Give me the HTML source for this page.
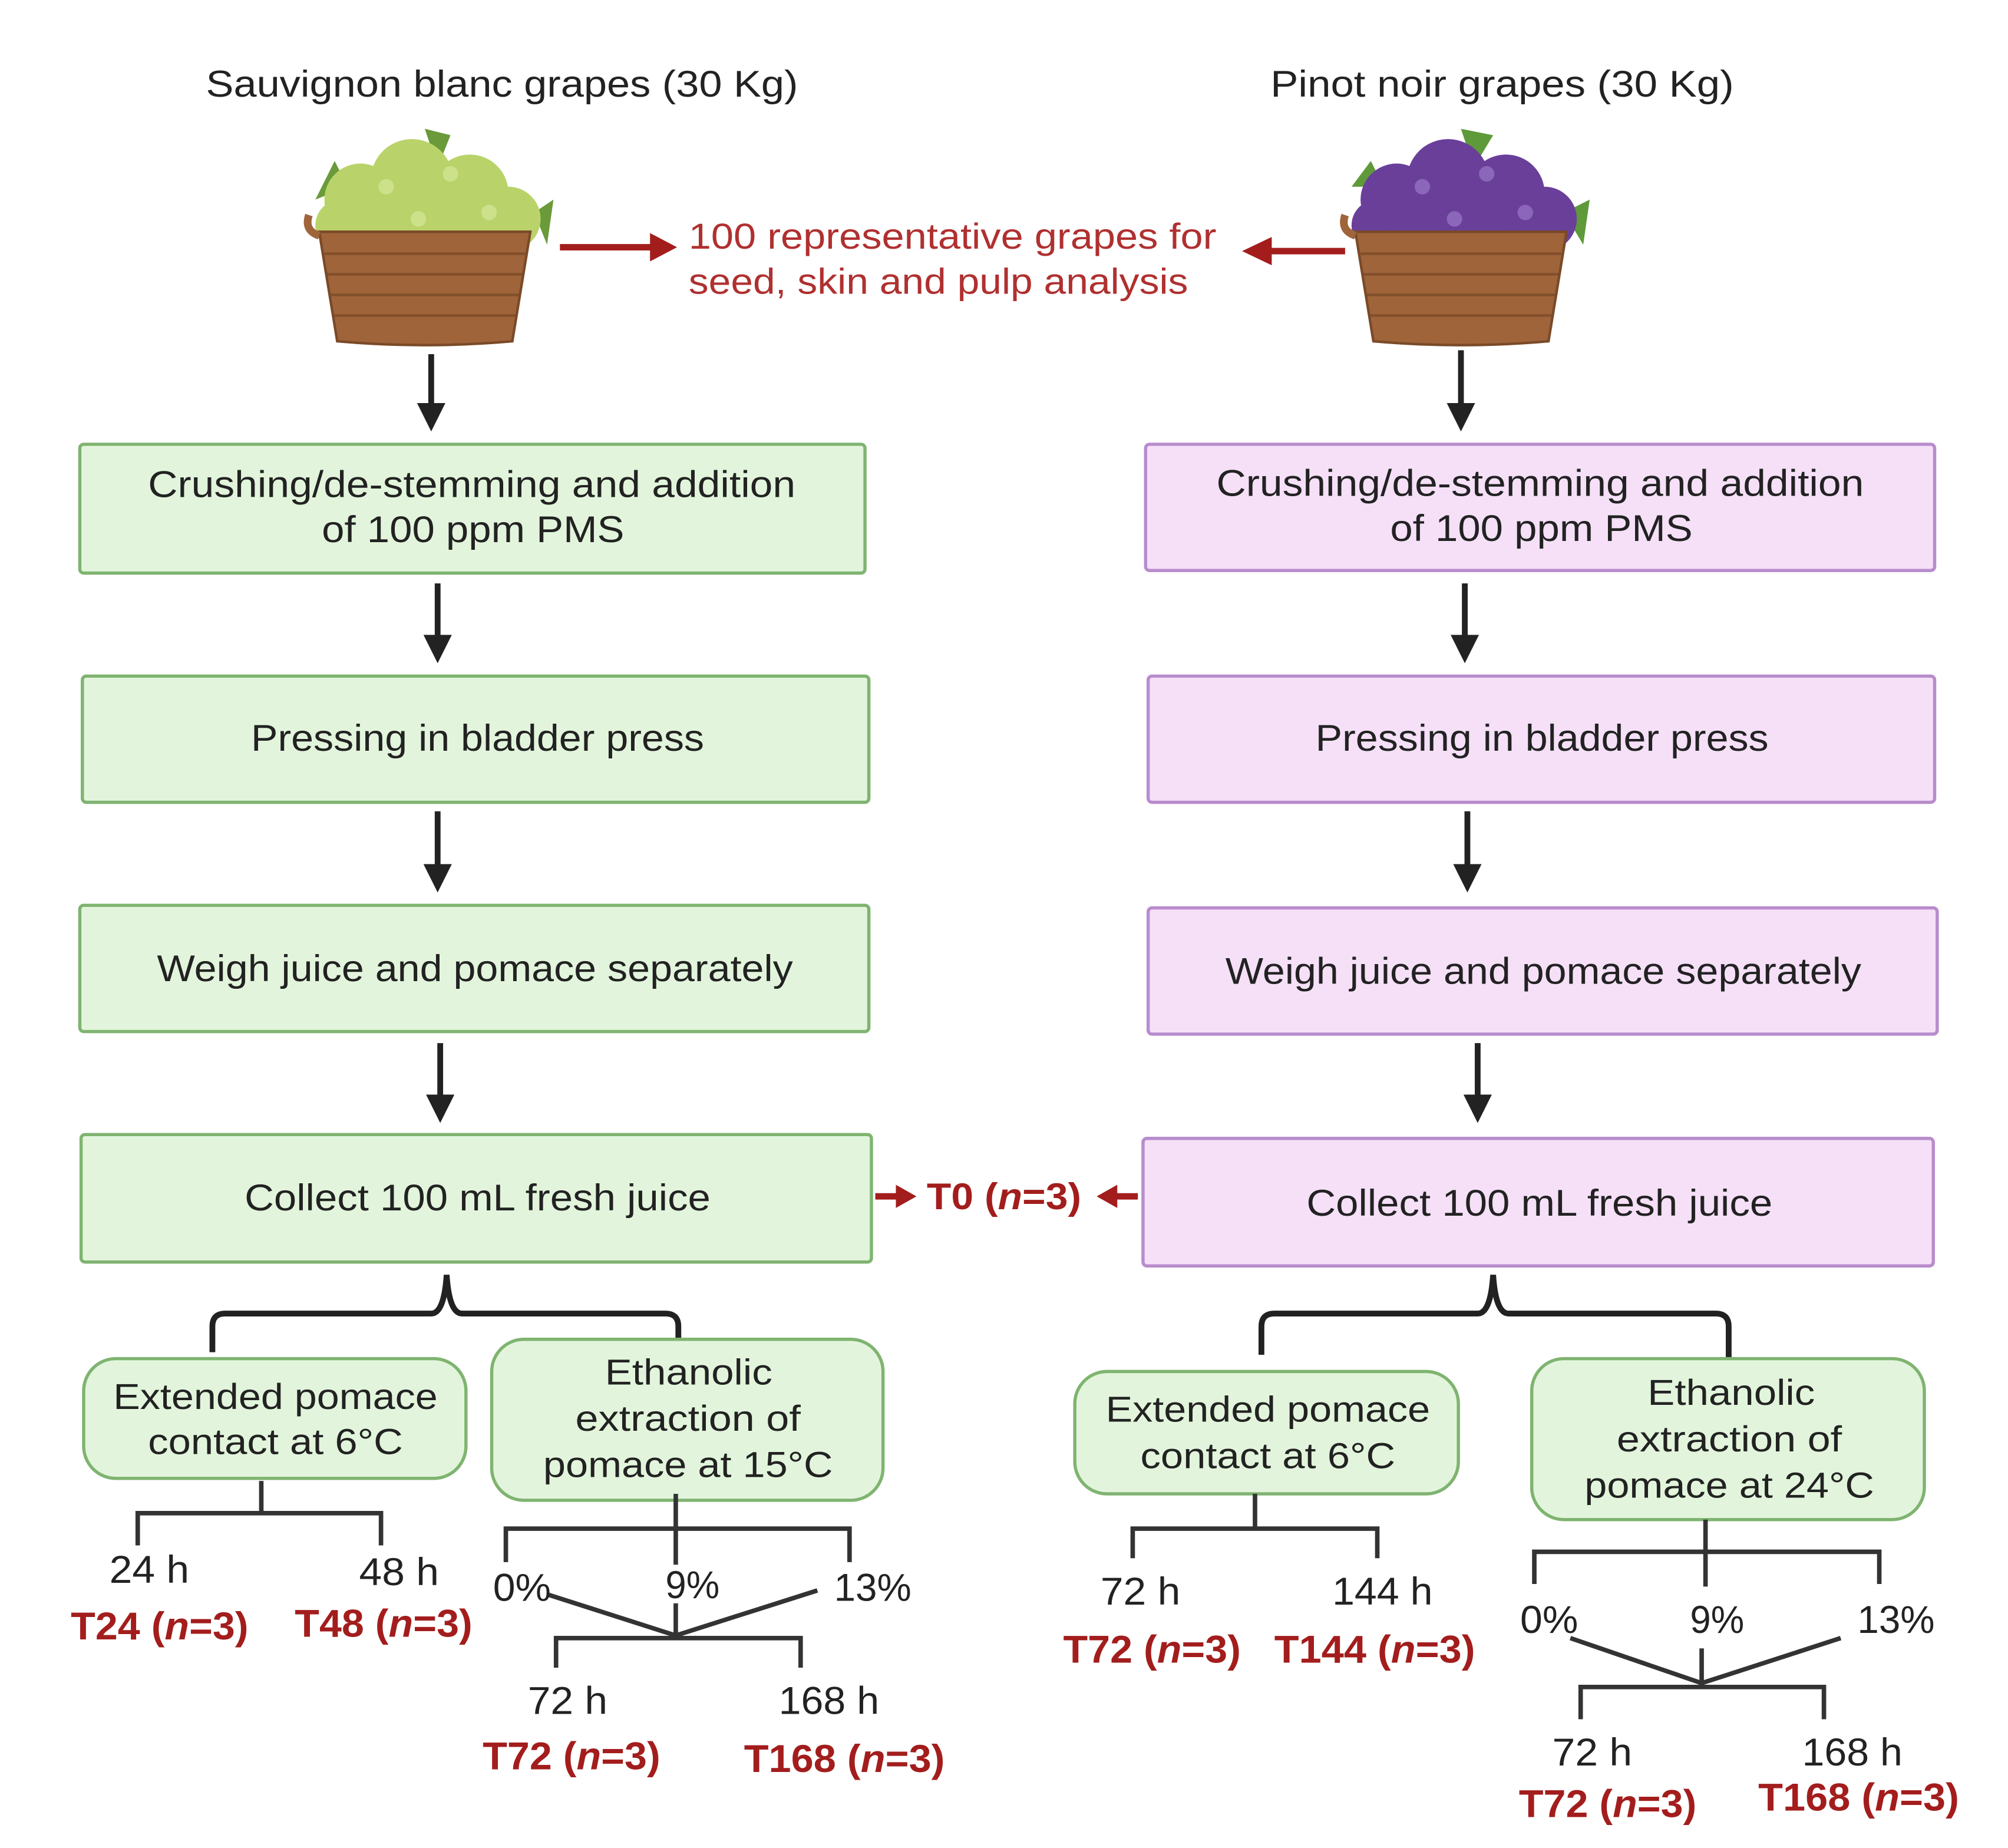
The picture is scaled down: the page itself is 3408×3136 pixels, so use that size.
<!DOCTYPE html>
<html><head><style>html,body{margin:0;padding:0;background:#fff}svg{display:block}</style></head><body>
<svg width="3408" height="3136" viewBox="0 0 1560 1435" preserveAspectRatio="none" xmlns="http://www.w3.org/2000/svg" font-family="Liberation Sans, Arial, sans-serif">
<defs>
<g id="basket">
<path d="M-82,5 L82,5 L68,90 Q0,96 -68,90 Z" fill="#a0643a" stroke="#7a4a28" stroke-width="2"/>
<g stroke="#7a4a28" stroke-width="2" opacity="0.8"><line x1="-78" y1="22" x2="78" y2="22"/><line x1="-76" y1="38" x2="76" y2="38"/><line x1="-74" y1="54" x2="74" y2="54"/><line x1="-71" y1="70" x2="71" y2="70"/></g>
<path d="M-90,-8 Q-94,4 -82,8" stroke="#a0643a" stroke-width="6" fill="none"/>
</g>
<g id="dn"><path d="M-11,0 L11,0 L0,22 z" fill="#222"/></g>
</defs>
<g font-size="29" fill="#222">
<text x="160" y="75" textLength="460" lengthAdjust="spacingAndGlyphs">Sauvignon blanc grapes (30 Kg)</text>
<text x="987" y="75" textLength="360" lengthAdjust="spacingAndGlyphs">Pinot noir grapes (30 Kg)</text>
</g>
<g transform="translate(330,175)">
<g fill="#6a9a3a"><path d="M-85,-20 L-70,-50 L-60,-30 Z"/><path d="M0,-75 L20,-70 L10,-45 Z"/><path d="M85,-10 L100,-20 L95,15 Z"/></g>
<g fill="#b9d36a"><circle cx="-50" cy="-20" r="28"/><circle cx="-10" cy="-35" r="32"/><circle cx="35" cy="-25" r="30"/><circle cx="65" cy="-5" r="25"/><circle cx="-65" cy="0" r="20"/><circle cx="10" cy="5" r="28"/><circle cx="-35" cy="5" r="22"/><circle cx="5" cy="20" r="20"/></g>
<g fill="#d6e89a" opacity="0.7"><circle cx="-30" cy="-30" r="6"/><circle cx="20" cy="-40" r="6"/><circle cx="50" cy="-10" r="6"/><circle cx="-5" cy="-5" r="6"/></g>
</g>
<use href="#basket" x="330" y="175"/>
<g transform="translate(1135,175)">
<g fill="#5f9a3a"><path d="M-85,-30 L-70,-50 L-60,-30 Z"/><path d="M0,-75 L25,-70 L10,-45 Z"/><path d="M80,-10 L100,-20 L95,15 Z"/></g>
<g fill="#6a3f9a"><circle cx="-50" cy="-20" r="28"/><circle cx="-10" cy="-35" r="32"/><circle cx="35" cy="-25" r="30"/><circle cx="65" cy="-5" r="25"/><circle cx="-65" cy="0" r="20"/><circle cx="10" cy="5" r="28"/><circle cx="-35" cy="5" r="22"/></g>
<g fill="#9a78c8" opacity="0.7"><circle cx="-30" cy="-30" r="6"/><circle cx="20" cy="-40" r="6"/><circle cx="50" cy="-10" r="6"/><circle cx="-5" cy="-5" r="6"/></g>
</g>
<use href="#basket" x="1135" y="175"/>
<g fill="#a31d1d" stroke="#a31d1d">
<line x1="435" y1="192" x2="508" y2="192" stroke-width="5"/><path d="M505,181 L526,192 L505,203 z" stroke="none"/>
<line x1="1045" y1="195" x2="985" y2="195" stroke-width="5"/><path d="M988,184 L965,195 L988,206 z" stroke="none"/>
</g>
<g font-size="28" fill="#b03030">
<text x="535" y="193" textLength="410" lengthAdjust="spacingAndGlyphs">100 representative grapes for</text>
<text x="535" y="228" textLength="388" lengthAdjust="spacingAndGlyphs">seed, skin and pulp analysis</text>
</g>
<g stroke="#222" stroke-width="4.5">
<line x1="335" y1="275" x2="335" y2="316"/><line x1="1135" y1="272" x2="1135" y2="316"/>
<line x1="340" y1="453" x2="340" y2="496"/><line x1="1138" y1="453" x2="1138" y2="496"/>
<line x1="340" y1="630" x2="340" y2="674"/><line x1="1140" y1="630" x2="1140" y2="674"/>
<line x1="342" y1="810" x2="342" y2="853"/><line x1="1148" y1="810" x2="1148" y2="853"/>
</g>
<use href="#dn" x="335" y="313"/><use href="#dn" x="1135" y="313"/>
<use href="#dn" x="340" y="493"/><use href="#dn" x="1138" y="493"/>
<use href="#dn" x="340" y="671"/><use href="#dn" x="1140" y="671"/>
<use href="#dn" x="342" y="850"/><use href="#dn" x="1148" y="850"/>
<g stroke-width="2.5">
<rect x="62" y="345" width="610" height="100" rx="3" fill="#e2f5dc" stroke="#7fb470"/>
<rect x="64" y="525" width="611" height="98" rx="3" fill="#e2f5dc" stroke="#7fb470"/>
<rect x="62" y="703" width="613" height="98" rx="3" fill="#e2f5dc" stroke="#7fb470"/>
<rect x="63" y="881" width="614" height="99" rx="3" fill="#e2f5dc" stroke="#7fb470"/>
<rect x="890" y="345" width="613" height="98" rx="3" fill="#f5e0f8" stroke="#b88ccc"/>
<rect x="892" y="525" width="611" height="98" rx="3" fill="#f5e0f8" stroke="#b88ccc"/>
<rect x="892" y="705" width="613" height="98" rx="3" fill="#f5e0f8" stroke="#b88ccc"/>
<rect x="888" y="884" width="614" height="99" rx="3" fill="#f5e0f8" stroke="#b88ccc"/>
</g>
<g font-size="29" fill="#222">
<text x="115" y="386" textLength="503" lengthAdjust="spacingAndGlyphs">Crushing/de-stemming and addition</text>
<text x="250" y="421" textLength="235" lengthAdjust="spacingAndGlyphs">of 100 ppm PMS</text>
<text x="195" y="583" textLength="352" lengthAdjust="spacingAndGlyphs">Pressing in bladder press</text>
<text x="122" y="762" textLength="494" lengthAdjust="spacingAndGlyphs">Weigh juice and pomace separately</text>
<text x="190" y="940" textLength="362" lengthAdjust="spacingAndGlyphs">Collect 100 mL fresh juice</text>
<text x="945" y="385" textLength="503" lengthAdjust="spacingAndGlyphs">Crushing/de-stemming and addition</text>
<text x="1080" y="420" textLength="235" lengthAdjust="spacingAndGlyphs">of 100 ppm PMS</text>
<text x="1022" y="583" textLength="352" lengthAdjust="spacingAndGlyphs">Pressing in bladder press</text>
<text x="952" y="764" textLength="494" lengthAdjust="spacingAndGlyphs">Weigh juice and pomace separately</text>
<text x="1015" y="944" textLength="362" lengthAdjust="spacingAndGlyphs">Collect 100 mL fresh juice</text>
</g>
<g fill="#a31d1d" stroke="#a31d1d">
<line x1="680" y1="929" x2="698" y2="929" stroke-width="5"/><path d="M696,920 L712,929 L696,938 z" stroke="none"/>
<line x1="884" y1="929" x2="866" y2="929" stroke-width="5"/><path d="M868,920 L852,929 L868,938 z" stroke="none"/>
</g>
<text x="720" y="939" font-size="29" font-weight="bold" fill="#a31d1d" textLength="120" lengthAdjust="spacingAndGlyphs">T0 (<tspan font-style="italic">n</tspan>=3)</text>
<g stroke="#222" stroke-width="4.5" fill="none">
<path d="M165,1050 L165,1030 Q165,1020 175,1020 L335,1020 Q345,1020 347,990 Q349,1020 359,1020 L517,1020 Q527,1020 527,1030 L527,1040"/>
<path d="M980,1052 L980,1030 Q980,1020 990,1020 L1148,1020 Q1158,1020 1160,990 Q1162,1020 1172,1020 L1333,1020 Q1343,1020 1343,1030 L1343,1055"/>
</g>
<g stroke-width="2.5" fill="#e2f5dc" stroke="#7fb470">
<rect x="65" y="1055" width="297" height="93" rx="25"/>
<rect x="382" y="1040" width="304" height="125" rx="25"/>
<rect x="835" y="1065" width="298" height="95" rx="25"/>
<rect x="1190" y="1055" width="305" height="125" rx="25"/>
</g>
<g font-size="28" fill="#222">
<text x="88" y="1094" textLength="252" lengthAdjust="spacingAndGlyphs">Extended pomace</text>
<text x="115" y="1129" textLength="198" lengthAdjust="spacingAndGlyphs">contact at 6°C</text>
<text x="470" y="1075" textLength="130" lengthAdjust="spacingAndGlyphs">Ethanolic</text>
<text x="447" y="1111" textLength="175" lengthAdjust="spacingAndGlyphs">extraction of</text>
<text x="422" y="1147" textLength="225" lengthAdjust="spacingAndGlyphs">pomace at 15°C</text>
<text x="859" y="1104" textLength="252" lengthAdjust="spacingAndGlyphs">Extended pomace</text>
<text x="886" y="1140" textLength="198" lengthAdjust="spacingAndGlyphs">contact at 6°C</text>
<text x="1280" y="1091" textLength="130" lengthAdjust="spacingAndGlyphs">Ethanolic</text>
<text x="1256" y="1127" textLength="175" lengthAdjust="spacingAndGlyphs">extraction of</text>
<text x="1231" y="1163" textLength="225" lengthAdjust="spacingAndGlyphs">pomace at 24°C</text>
</g>
<g stroke="#333" stroke-width="3.5" fill="none">
<path d="M203,1150 L203,1175 M107,1200 L107,1175 L296,1175 L296,1200"/>
<path d="M525,1160 L525,1215 M393,1213 L393,1187 L660,1187 L660,1213"/>
<path d="M425,1238 L525,1270 L635,1235 M525,1245 L525,1270 M432,1295 L432,1272 L622,1272 L622,1295"/>
<path d="M975,1160 L975,1187 M880,1210 L880,1187 L1070,1187 L1070,1210"/>
<path d="M1325,1180 L1325,1232 M1192,1230 L1192,1205 L1460,1205 L1460,1230"/>
<path d="M1220,1272 L1322,1307 L1430,1272 M1322,1280 L1322,1307 M1228,1335 L1228,1310 L1417,1310 L1417,1335"/>
</g>
<g font-size="30" fill="#222">
<text x="85" y="1229" textLength="62" lengthAdjust="spacingAndGlyphs">24 h</text><text x="279" y="1231" textLength="62" lengthAdjust="spacingAndGlyphs">48 h</text>
<text x="383" y="1243" textLength="45" lengthAdjust="spacingAndGlyphs">0%</text><text x="517" y="1241" textLength="42" lengthAdjust="spacingAndGlyphs">9%</text><text x="648" y="1243" textLength="60" lengthAdjust="spacingAndGlyphs">13%</text>
<text x="410" y="1331" textLength="62" lengthAdjust="spacingAndGlyphs">72 h</text><text x="605" y="1331" textLength="78" lengthAdjust="spacingAndGlyphs">168 h</text>
<text x="855" y="1246" textLength="62" lengthAdjust="spacingAndGlyphs">72 h</text><text x="1035" y="1246" textLength="78" lengthAdjust="spacingAndGlyphs">144 h</text>
<text x="1181" y="1268" textLength="45" lengthAdjust="spacingAndGlyphs">0%</text><text x="1313" y="1268" textLength="42" lengthAdjust="spacingAndGlyphs">9%</text><text x="1443" y="1268" textLength="60" lengthAdjust="spacingAndGlyphs">13%</text>
<text x="1206" y="1371" textLength="62" lengthAdjust="spacingAndGlyphs">72 h</text><text x="1400" y="1371" textLength="78" lengthAdjust="spacingAndGlyphs">168 h</text>
</g>
<g font-size="30" font-weight="bold" fill="#a31d1d">
<text x="55" y="1273" textLength="138" lengthAdjust="spacingAndGlyphs">T24 (<tspan font-style="italic">n</tspan>=3)</text>
<text x="229" y="1271" textLength="138" lengthAdjust="spacingAndGlyphs">T48 (<tspan font-style="italic">n</tspan>=3)</text>
<text x="375" y="1374" textLength="138" lengthAdjust="spacingAndGlyphs">T72 (<tspan font-style="italic">n</tspan>=3)</text>
<text x="578" y="1376" textLength="156" lengthAdjust="spacingAndGlyphs">T168 (<tspan font-style="italic">n</tspan>=3)</text>
<text x="826" y="1291" textLength="138" lengthAdjust="spacingAndGlyphs">T72 (<tspan font-style="italic">n</tspan>=3)</text>
<text x="990" y="1291" textLength="156" lengthAdjust="spacingAndGlyphs">T144 (<tspan font-style="italic">n</tspan>=3)</text>
<text x="1180" y="1411" textLength="138" lengthAdjust="spacingAndGlyphs">T72 (<tspan font-style="italic">n</tspan>=3)</text>
<text x="1366" y="1406" textLength="156" lengthAdjust="spacingAndGlyphs">T168 (<tspan font-style="italic">n</tspan>=3)</text>
</g>
</svg>
</body></html>
